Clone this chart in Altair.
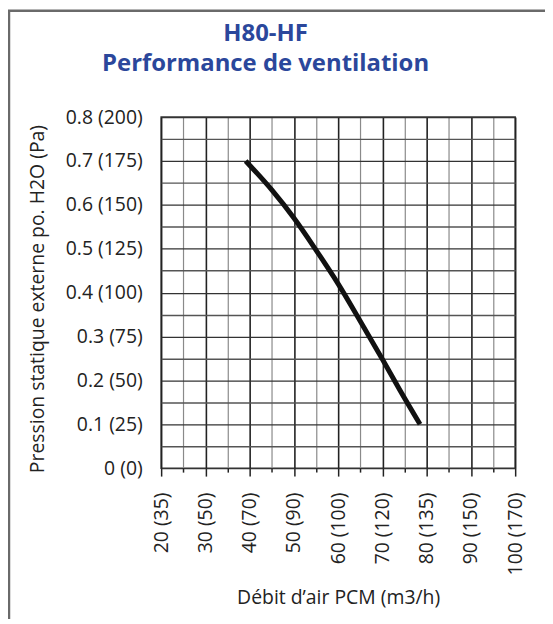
import altair as alt
import pandas as pd

# Curve (airflow CFM, static pressure in. H2O)
flow = [39.1, 45.0, 50.0, 55.0, 60.0, 65.0, 70.0, 74.0, 78.5]
pressure = [0.70, 0.634, 0.570, 0.497, 0.420, 0.335, 0.248, 0.177, 0.10]

x_ticks = [20, 30, 40, 50, 60, 70, 80, 90, 100]
x_labels = ["20 (35)", "30 (50)", "40 (70)", "50 (90)", "60 (100)", "70 (120)",
            "80 (135)", "90 (150)", "100 (170)"]
x_grid = [20, 25, 30, 35, 40, 45, 50, 55, 60, 65, 70, 75, 80, 85, 90, 95, 100]

y_ticks = [0, 0.1, 0.2, 0.3, 0.4, 0.5, 0.6, 0.7, 0.8]
y_labels = ["0 (0)", "0.1 (25)", "0.2 (50)", "0.3 (75)", "0.4 (100)", "0.5 (125)",
            "0.6 (150)", "0.7 (175)", "0.8 (200)"]
y_grid = [0, 0.05, 0.1, 0.15, 0.2, 0.25, 0.3, 0.35, 0.4, 0.45, 0.5, 0.55, 0.6,
          0.65, 0.7, 0.75, 0.8]

FONT = "Open Sans"

df = pd.DataFrame({"flow": flow, "pressure": pressure})

x_expr = "".join(f"abs(datum.value - {v}) < 1e-6 ? '{l}' : " for v, l in zip(x_ticks, x_labels)) + "''"
y_expr = "".join(f"abs(datum.value - {v}) < 1e-6 ? '{l}' : " for v, l in zip(y_ticks, y_labels)) + "''"
x_major = "abs(datum.value / 10 - round(datum.value / 10)) < 1e-6"
y_major = "abs(datum.value * 10 - round(datum.value * 10)) < 1e-6"

W, H = 356, 353

line = alt.Chart(df).mark_line(color="#111111", strokeWidth=5, interpolate="monotone").encode(
    x=alt.X("flow:Q",
            scale=alt.Scale(domain=[20, 100], nice=False, zero=False),
            axis=alt.Axis(values=x_grid, labelExpr=x_expr, labelAngle=270,
                          labelFont=FONT, labelFontSize=19.5, labelColor="#222222",
                          labelPadding=16, labelOverlap=False, labelFlush=False,
                          tickSize={"condition": {"test": x_major, "value": 8}, "value": 4},
                          tickColor="#222222", tickWidth=1.5,
                          grid=True,
                          gridColor={"condition": {"test": x_major, "value": "#222222"}, "value": "#8a8a8a"},
                          gridWidth={"condition": {"test": x_major, "value": 1.6}, "value": 1.2},
                          domain=False,
                          title="Débit d’air PCM (m3/h)", titleFont=FONT, titleFontSize=19.5,
                          titleFontWeight="normal", titleColor="#222222",
                          titleX=W / 2, titleY=136, titleBaseline="alphabetic")),
    y=alt.Y("pressure:Q",
            scale=alt.Scale(domain=[0, 0.8], nice=False, zero=True),
            axis=alt.Axis(values=y_grid, labelExpr=y_expr,
                          labelFont=FONT, labelFontSize=19.5, labelColor="#222222",
                          labelPadding=19, labelOverlap=False, labelFlush=False,
                          ticks=False, grid=True,
                          gridColor={"condition": {"test": y_major, "value": "#333333"}, "value": "#555555"},
                          gridWidth=1.3, domain=False,
                          title="Pression statique externe po. H2O (Pa)", titleFont=FONT,
                          titleFontSize=19.5, titleFontWeight="normal", titleColor="#222222",
                          titleX=-124, titleY=H / 2 + 6, titleAngle=270, titleBaseline="middle")),
)

frame = alt.Chart(pd.DataFrame({"a": [0]})).mark_rect(
    fill=None, stroke="#6a6a6a", strokeWidth=2.5
).encode(
    x=alt.value(-153), x2=alt.value(700), y=alt.value(-107), y2=alt.value(900)
)

chart = alt.layer(line, frame).properties(
    width=W, height=H,
    autosize=alt.AutoSizeParams(type="none"),
    padding={"left": 154, "top": 108, "right": 30, "bottom": 150},
    title=alt.TitleParams(["H80-HF", "Performance de ventilation"], font=FONT,
                          fontSize=24, fontWeight="bold", color="#2b479b",
                          anchor="middle", frame="group", dx=-73, offset=-67, lineHeight=30),
).configure_view(stroke="#333333", strokeWidth=1.5)

chart.save("out.html", embed_options={"renderer": "svg", "actions": False})
